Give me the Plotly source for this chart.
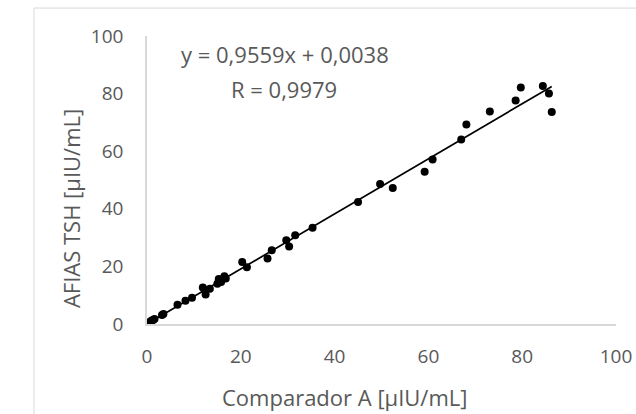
import plotly.graph_objects as go

# Data (Comparador A vs AFIAS TSH)
comparador_a = [0.0, 0.2, 0.4, 0.6, 0.8, 1.0, 1.3, 1.6, 3.2, 3.5, 6.5, 8.2, 9.6,
                11.9, 12.3, 12.5, 13.4, 15.0, 15.3, 15.8, 16.5, 16.8,
                20.3, 21.3, 25.7, 26.6, 29.7, 30.3, 31.6, 35.3, 45.0, 49.7, 52.4,
                59.2, 60.9, 67.0, 68.1, 73.1, 78.6, 79.7, 84.4, 85.7, 86.3]
afias_tsh = [0.0, 0.2, 0.4, 0.7, 0.9, 1.2, 1.4, 1.7, 3.1, 3.5, 6.7, 8.1, 9.1,
             12.7, 11.8, 10.2, 12.2, 14.0, 15.6, 14.6, 16.6, 15.8,
             21.5, 19.7, 22.7, 25.6, 29.1, 26.9, 30.8, 33.4, 42.4, 48.6, 47.2,
             52.9, 57.1, 64.1, 69.3, 73.8, 77.6, 82.1, 82.6, 80.0, 73.6]

slope = 0.9559
intercept = 0.0038
r_value = 0.9979
x_ticks = [0, 20, 40, 60, 80, 100]
y_ticks = [0, 20, 40, 60, 80, 100]
x_title = "Comparador A [µIU/mL]"
y_title = "AFIAS TSH [µIU/mL]"

trend_x = [min(comparador_a), max(comparador_a)]
trend_y = [slope * v + intercept for v in trend_x]

font_family = "Open Sans"
grey = "#595959"
tick_size = 19
title_size = 22

fig = go.Figure()
fig.add_trace(go.Scatter(x=trend_x, y=trend_y, mode="lines",
                         line=dict(color="black", width=1.7), showlegend=False))
fig.add_trace(go.Scatter(x=comparador_a, y=afias_tsh, mode="markers",
                         marker=dict(color="black", size=8), showlegend=False))

fig.update_layout(
    width=636, height=414,
    margin=dict(l=147, r=20, t=36, b=90, autoexpand=False),
    paper_bgcolor="white", plot_bgcolor="white",
    font=dict(family=font_family, color=grey, size=tick_size),
    xaxis=dict(range=[0, 100], tickvals=x_ticks, showgrid=False, zeroline=False,
               showline=True, linecolor="#d9d9d9", linewidth=1.5, automargin=False,
               ticks="", ticklabelstandoff=14, tickfont=dict(size=tick_size, color=grey)),
    yaxis=dict(range=[0, 100], tickvals=y_ticks, showgrid=False, zeroline=False,
               showline=True, linecolor="#d9d9d9", linewidth=1.5, automargin=False,
               ticks="", ticklabelstandoff=18, tickfont=dict(size=tick_size, color=grey)),
    shapes=[dict(type="rect", xref="paper", yref="paper",
                 x0=-0.241, x1=1.2, y0=-0.40, y1=1.097,
                 line=dict(color="#d9d9d9", width=1), fillcolor="rgba(0,0,0,0)",
                 layer="below")],
    annotations=[
        dict(x=0.294, y=0.938, xref="paper", yref="paper", xanchor="center", yanchor="middle",
             text=f"y = {slope:.4f}x + {intercept:.4f}".replace(".", ","),
             showarrow=False, font=dict(size=title_size, color=grey)),
        dict(x=0.292, y=0.815, xref="paper", yref="paper", xanchor="center", yanchor="middle",
             text=f"R = {r_value:.4f}".replace(".", ","),
             showarrow=False, font=dict(size=title_size, color=grey)),
        dict(x=0.422, y=-0.253, xref="paper", yref="paper", xanchor="center", yanchor="middle",
             text=x_title, showarrow=False, font=dict(size=title_size, color=grey)),
        dict(x=-0.162, y=0.399, xref="paper", yref="paper", xanchor="center", yanchor="middle",
             text=y_title, textangle=-90, showarrow=False,
             font=dict(size=title_size, color=grey)),
    ],
)

fig.write_html(
    "out.html",
    config={"displayModeBar": False},
    post_script="document.body.style.margin='0';document.body.style.overflow='hidden';",
)
